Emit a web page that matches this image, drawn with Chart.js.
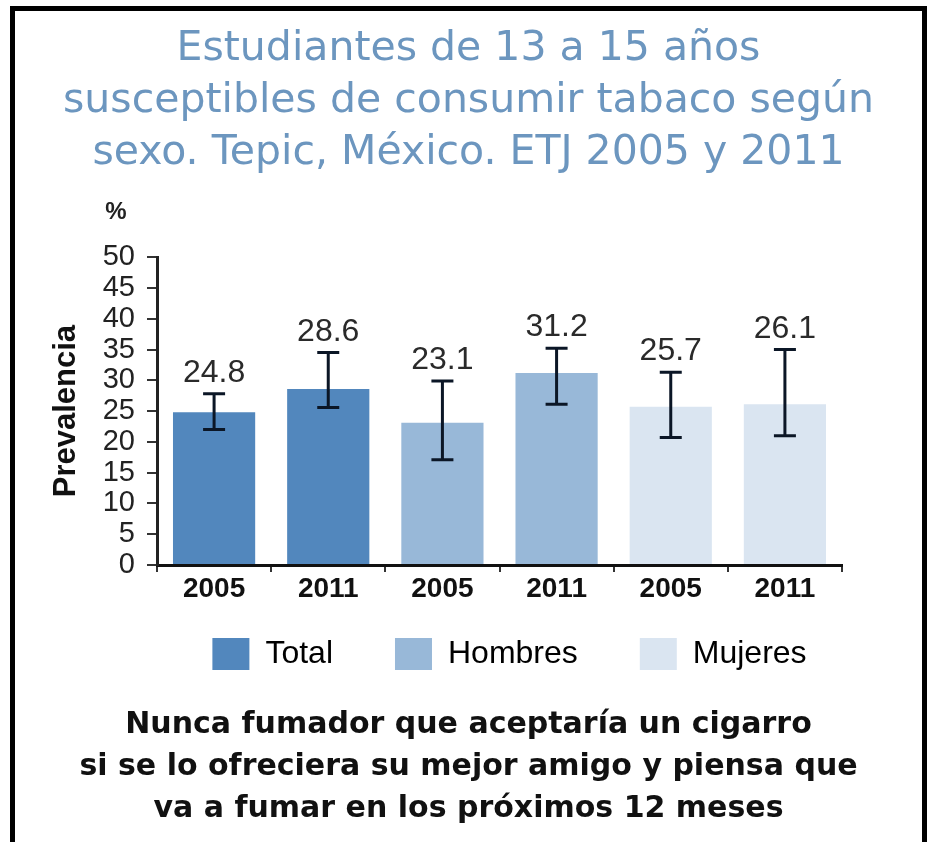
<!DOCTYPE html>
<html>
<head>
<meta charset="utf-8">
<script src="https://cdn.jsdelivr.net/npm/chart.js@4.4.1/dist/chart.umd.min.js"></script>
<style>
  body { margin: 0; background: #fff; overflow: hidden; }
  #frame { position: absolute; left: 10px; top: 6px; width: 907px; height: 836px;
           border: 5px solid #000; border-bottom: none; }
  #box { position: relative; width: 907px; height: 831px; }
</style>
</head>
<body>
<div id="frame"><div id="box"><canvas id="myChart"></canvas></div></div>
<script>
// data
const years = ['2005', '2011', '2005', '2011', '2005', '2011']
const groups = ['Total', 'Hombres', 'Mujeres']
const groupOfBar = [0, 0, 1, 1, 2, 2]
const prevalence = [24.8, 28.6, 23.1, 31.2, 25.7, 26.1]
const lowerCI = [22.0, 25.6, 17.1, 26.1, 20.7, 21.0]
const upperCI = [27.8, 34.5, 29.9, 35.2, 31.3, 35.0]
const groupColors = ['#5287bd', '#98b8d8', '#dae5f1']

const titleLines = ['Estudiantes de 13 a 15 años', 'susceptibles de consumir tabaco según', 'sexo. Tepic, México. ETJ 2005 y 2011']
const noteLines = ['Nunca fumador que aceptaría un cigarro', 'si se lo ofreciera su mejor amigo y piensa que', 'va a fumar en los próximos 12 meses']

// error bars + value labels on top of the bars
const errorBars = {
    id: 'errorBars',
    afterDatasetsDraw(chart) {
        const ctx = chart.ctx
        const y = chart.scales.y
        const meta = chart.getDatasetMeta(0)
        ctx.save()
        ctx.strokeStyle = '#0b1626'
        ctx.lineWidth = 3
        meta.data.forEach((bar, i) => {
            const yHi = y.getPixelForValue(upperCI[i])
            const yLo = y.getPixelForValue(lowerCI[i])
            ctx.beginPath()
            ctx.moveTo(bar.x, yHi); ctx.lineTo(bar.x, yLo)
            ctx.moveTo(bar.x - 11, yHi); ctx.lineTo(bar.x + 11, yHi)
            ctx.moveTo(bar.x - 11, yLo); ctx.lineTo(bar.x + 11, yLo)
            ctx.stroke()
            ctx.fillStyle = '#2a2a2a'
            ctx.font = '32px "Liberation Sans", Arial, sans-serif'
            ctx.textAlign = 'center'
            ctx.textBaseline = 'alphabetic'
            ctx.fillText(prevalence[i].toFixed(1), bar.x, yHi - 12)
        })
        // unit label above the y axis
        ctx.fillStyle = '#222'
        ctx.font = 'bold 24px "Liberation Sans", Arial, sans-serif'
        ctx.textAlign = 'center'
        ctx.textBaseline = 'middle'
        ctx.fillText('%', chart.chartArea.left - 41, chart.chartArea.top - 45)
        ctx.restore()
    },
    afterLayout(chart) {
        // legend sits a bit right, under the middle of the plot
        const lg = chart.legend
        const d = (chart.chartArea.left + chart.chartArea.right) / 2 + 10 - (lg.left + lg.right) / 2
        lg.left += d
        lg.right += d
        // year labels hang below the thin x axis box
        chart.scales.x._computeLabelArea = () => null
    }
}

const data = {
    labels: years,
    datasets: [{
        label: 'Prevalencia',
        data: prevalence,
        backgroundColor: groupOfBar.map(g => groupColors[g]),
        borderWidth: 0,
        barPercentage: 0.72,
        categoryPercentage: 1
    }]
}

const config = {
    type: 'bar',
    data: data,
    plugins: [errorBars],
    options: {
        responsive: true,
        maintainAspectRatio: false,
        animation: false,
        layout: { padding: 0 },
        plugins: {
            title: {
                display: true,
                text: titleLines,
                color: '#6c96bf',
                font: { family: '"DejaVu Sans", sans-serif', size: 41, weight: 'normal', lineHeight: 1.27 },
                padding: { top: 12, bottom: 78 }
            },
            subtitle: {
                display: true,
                position: 'bottom',
                text: noteLines,
                color: '#111',
                font: { family: '"DejaVu Sans", sans-serif', size: 30, weight: 'bold', lineHeight: 1.4 },
                padding: { top: 24, bottom: 12 }
            },
            legend: {
                position: 'bottom',
                onClick: null,
                labels: {
                    boxWidth: 37,
                    boxHeight: 32,
                    padding: 62,
                    color: '#1a1a1a',
                    font: { family: '"Liberation Sans", Arial, sans-serif', size: 32 },
                    generateLabels: () => groups.map((g, i) => ({
                        text: g, fillStyle: groupColors[i], strokeStyle: groupColors[i],
                        lineWidth: 0, hidden: false, datasetIndex: 0
                    }))
                }
            },
            tooltip: { enabled: false }
        },
        scales: {
            x: {
                grid: { display: true, drawOnChartArea: false, drawTicks: true, tickLength: 7, color: '#333', lineWidth: 2, offset: true },
                border: { display: true, color: '#111', width: 3 },
                ticks: { padding: 0, color: '#111', maxRotation: 0,
                         font: { family: '"Liberation Sans", Arial, sans-serif', size: 28, weight: 'bold' } },
                afterFit: scale => { scale.height = 11; scale.paddingRight = 80 }
            },
            y: {
                min: 0,
                max: 50,
                grid: { display: true, drawOnChartArea: false, drawTicks: true, tickLength: 10, color: '#333', lineWidth: 2 },
                border: { display: true, color: '#222', width: 3 },
                ticks: { stepSize: 5, autoSkip: false, padding: 12, color: '#222',
                         font: { family: '"Liberation Sans", Arial, sans-serif', size: 29 } },
                title: {
                    display: true,
                    text: 'Prevalencia',
                    color: '#111',
                    font: { family: '"Liberation Sans", Arial, sans-serif', size: 31, weight: 'bold' },
                    padding: { top: 33, bottom: 0 }
                },
                afterFit: scale => { scale.width = 142 }
            }
        }
    }
}

const myChart = new Chart(document.getElementById('myChart'), config)
</script>
</body>
</html>
